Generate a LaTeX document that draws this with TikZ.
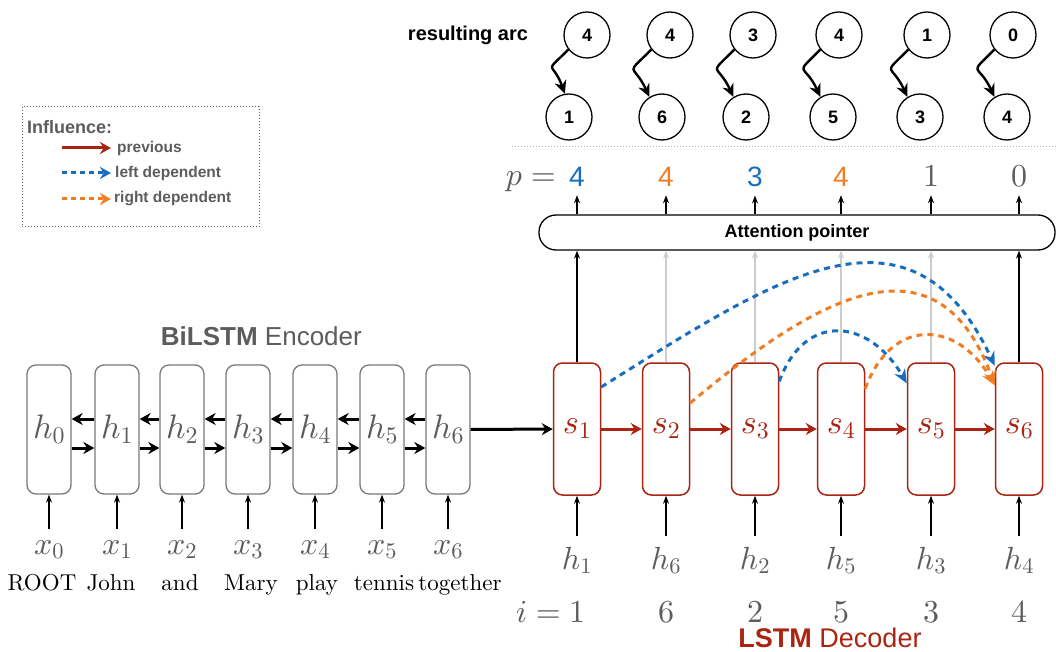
\RequirePackage{fix-cm}
\documentclass[tikz,border=0pt]{standalone}
\usepackage[no-math]{fontspec}
\setsansfont{Liberation Sans}
\newfontfamily\wordfont{lmroman10-regular.otf}
\DeclareFontShape{OML}{cmm}{m}{it}{<->cmmi10}{}
\DeclareFontShape{OT1}{cmr}{m}{n}{<->cmr10}{}
\usetikzlibrary{arrows.meta,positioning}

\definecolor{decred}{RGB}{170,36,18}
\definecolor{depblue}{RGB}{24,110,190}
\definecolor{deporange}{RGB}{240,125,35}
\definecolor{txtgray}{RGB}{92,92,92}
\definecolor{boxgray}{RGB}{120,120,120}
\definecolor{lightarr}{RGB}{205,205,205}

\begin{document}
\begin{tikzpicture}
                [x=1pt, y=1pt, >={Stealth[length=8pt,width=6pt]},
                enc/.style={draw=boxgray, line width=1.3pt, rounded corners=9pt,
                    minimum width=44pt, minimum height=129pt, inner sep=0pt,
                    text=txtgray, font=\fontsize{34}{34}\selectfont},
                dec/.style={draw=decred, line width=1.5pt, rounded corners=9pt,
                    minimum width=47pt, minimum height=132pt, inner sep=0pt,
                    text=decred, font=\fontsize{34}{34}\selectfont},
                inlab/.style={anchor=base, inner sep=2pt, text height=23pt,
                    text=txtgray, font=\fontsize{32}{32}\selectfont},
                word/.style={anchor=base, inner sep=0pt, font=\wordfont\fontsize{23}{23}\selectfont},
                pval/.style={anchor=base, inner xsep=0pt, inner ysep=8pt},
                arcnode/.style={circle, draw, line width=1.3pt, minimum size=46pt,
                    inner sep=0pt, font=\sffamily\bfseries\fontsize{18}{18}\selectfont},
                legtxt/.style={anchor=west, inner sep=0pt, text=txtgray,
                    font=\sffamily\bfseries\fontsize{15.5}{16}\selectfont},
                thin arrow/.style={->, line width=1.2pt},
                arc arrow/.style={-{Stealth[length=13pt,width=12pt]}, line width=2.4pt},
                fat arrow/.style={-{Stealth[length=11pt,width=12pt]}, line width=3pt},
                dep/.style={dash pattern=on 6pt off 5pt, line width=3pt,
                    -{Stealth[length=14pt,width=12pt]}},
                ]
                \useasboundingbox (0,0) rectangle (1056,-652);

                % legend
                \draw[txtgray, line width=1pt, dash pattern=on 1pt off 2pt]
                    (22,-107) rectangle (259,-227);
                \node[legtxt, font=\sffamily\bfseries\fontsize{18}{18}\selectfont]
                    (infl) at (27,-127) {Influence:};
                \coordinate (prevA) at (62,-148);
                \coordinate (prevB) at (111,-148);
                \coordinate (leftA) at (62,-173);
                \coordinate (leftB) at (111,-173);
                \coordinate (rightA) at (62,-199);
                \coordinate (rightB) at (111,-199);
                \draw[fat arrow, decred] (prevA) -- (prevB);
                \draw[fat arrow, depblue, dash pattern=on 5pt off 4pt] (leftA) -- (leftB);
                \draw[fat arrow, deporange, dash pattern=on 5pt off 4pt] (rightA) -- (rightB);
                \node[legtxt] (prevtxt) at (117,-148) {previous};
                \node[legtxt] (lefttxt) at (115,-173) {left dependent};
                \node[legtxt] (righttxt) at (114,-199) {right dependent};

                % resulting arcs
                \node[font=\sffamily\bfseries\fontsize{20}{20}\selectfont]
                    (res) at (468,-35) {resulting arc};
                \node[arcnode] (t1) at (587,-35) {4};
                \node[arcnode] (b1) at (569,-117) {1};
                \node[arcnode] (t2) at (670,-35) {4};
                \node[arcnode] (b2) at (662,-117) {6};
                \node[arcnode] (t3) at (753,-35) {3};
                \node[arcnode] (b3) at (746,-117) {2};
                \node[arcnode] (t4) at (839,-35) {4};
                \node[arcnode] (b4) at (833,-117) {5};
                \node[arcnode] (t5) at (927,-35) {1};
                \node[arcnode] (b5) at (920,-117) {3};
                \node[arcnode] (t6) at (1013,-35) {0};
                \node[arcnode] (b6) at (1007,-117) {4};
                \draw[arc arrow] (t1.218) to[out=225, in=110, looseness=2.1] (b1.100);
                \draw[arc arrow] (t2.218) to[out=225, in=115, looseness=2.1] (b2.122);
                \draw[arc arrow] (t3.218) to[out=225, in=115, looseness=2.1] (b3.122);
                \draw[arc arrow] (t4.218) to[out=225, in=115, looseness=2.1] (b4.122);
                \draw[arc arrow] (t5.218) to[out=225, in=115, looseness=2.1] (b5.122);
                \draw[arc arrow] (t6.218) to[out=225, in=115, looseness=2.1] (b6.122);

                \draw[gray!60, line width=1pt, dash pattern=on 1pt off 2pt] (512,-147) -- (1056,-147);

                % pointer
                \node[draw, line width=1.3pt, rounded corners=17pt, minimum width=516pt,
                    minimum height=35pt, font=\sffamily\bfseries\fontsize{18}{18}\selectfont]
                    (att) at (797,-232.5) {Attention pointer};
                \node[anchor=base east, inner sep=0pt, text=txtgray,
                    font=\fontsize{32}{32}\selectfont] (peq) at (556,-186) {$p =$};
                \node[pval, text=depblue, font=\sffamily\fontsize{28}{28}\selectfont] (p1) at (577,-187) {4};
                \node[pval, text=deporange, font=\sffamily\fontsize{28}{28}\selectfont] (p2) at (666,-187) {4};
                \node[pval, text=depblue, font=\sffamily\fontsize{28}{28}\selectfont] (p3) at (755,-187) {3};
                \node[pval, text=deporange, font=\sffamily\fontsize{28}{28}\selectfont] (p4) at (841,-187) {4};
                \node[pval, text=txtgray, font=\fontsize{32}{32}\selectfont] (p5) at (931,-187) {$1$};
                \node[pval, text=txtgray, font=\fontsize{32}{32}\selectfont] (p6) at (1019,-187) {$0$};
                \foreach \n in {1,...,6}
                    \draw[thin arrow] (p\n.south |- att.north) -- (p\n.south);

                % encoder
                \foreach \n/\x in {0/49,1/117,2/182,3/248,4/315,5/382,6/448} {
                    \node[enc] (h\n) at (\x,-429.5) {$h_{\n}$};
                    \node[inlab] (x\n) at (\x,-554) {$x_{\n}$};
                    \draw[thin arrow] (x\n) -- (h\n);
                }
                \foreach \a/\b in {0/1,1/2,2/3,3/4,4/5,5/6} {
                    \draw[fat arrow] ([yshift=10.5pt]h\b.west) -- ([yshift=10.5pt]h\a.east);
                    \draw[fat arrow] ([yshift=-18.5pt]h\a.east) -- ([yshift=-18.5pt]h\b.west);
                }
                \node[word] (w0) at (42,-590) {ROOT};
                \node[word] (w1) at (111,-590) {John};
                \node[word] (w2) at (180,-590) {and};
                \node[word] (w3) at (251,-590) {Mary};
                \node[word] (w4) at (317,-590) {play};
                \node[word] (w5) at (384,-590) {tennis};
                \node[word] (w6) at (460,-590) {together};
                \node[anchor=base east, inner sep=0pt, text=txtgray,
                    font=\sffamily\fontsize{26}{26}\selectfont]
                    (enctitle) at (362,-345) {\textbf{BiLSTM} Encoder};

                % decoder
                \foreach \n/\x/\k in {1/577/1,2/666/6,3/755/2,4/841/5,5/931/3,6/1019/4} {
                    \node[dec] (s\n) at (\x,-429) {$s_{\n}$};
                    \node[inlab, text height=31pt] (hin\n) at (\x,-569) {$h_{\k}$};
                    \draw[thin arrow] (hin\n) -- (s\n);
                    \node[anchor=base, inner sep=0pt, text=txtgray,
                        font=\fontsize{32}{32}\selectfont] (ival\n) at (\x,-622) {$\k$};
                }
                \node[anchor=base east, inner sep=0pt, text=txtgray,
                    font=\fontsize{32}{32}\selectfont] (ieq) at (561,-622) {$i =$};
                \draw[fat arrow] (h6) -- (s1);
                \foreach \a/\b in {1/2,2/3,3/4,4/5,5/6}
                    \draw[fat arrow, decred] (s\a) -- (s\b);

                \draw[thin arrow] (s1) -- (s1 |- att.south);
                \draw[thin arrow, lightarr] (s2) -- (s2 |- att.south);
                \draw[thin arrow, lightarr] (s3) -- (s3 |- att.south);
                \draw[thin arrow, lightarr] (s4) -- (s4 |- att.south);
                \draw[thin arrow, lightarr] (s5) -- (s5 |- att.south);
                \draw[thin arrow] (s6) -- (s6 |- att.south);

                \draw[dep, depblue] (s1.60) to[out=32, in=115, looseness=1.3] (s6.111);
                \draw[dep, deporange] (s2.47) to[out=40, in=110, looseness=1.4] (s6.119);
                \draw[dep, depblue] (s3.63) to[out=70, in=120, looseness=1.5] (s5.118);
                \draw[dep, deporange] (s4.59) to[out=70, in=120, looseness=1.5] (s6.119);

                \node[anchor=base, text=decred, font=\sffamily\fontsize{27}{27}\selectfont]
                    (dectitle) at (830,-647) {\textbf{LSTM} Decoder};
            \end{tikzpicture}
\end{document}
